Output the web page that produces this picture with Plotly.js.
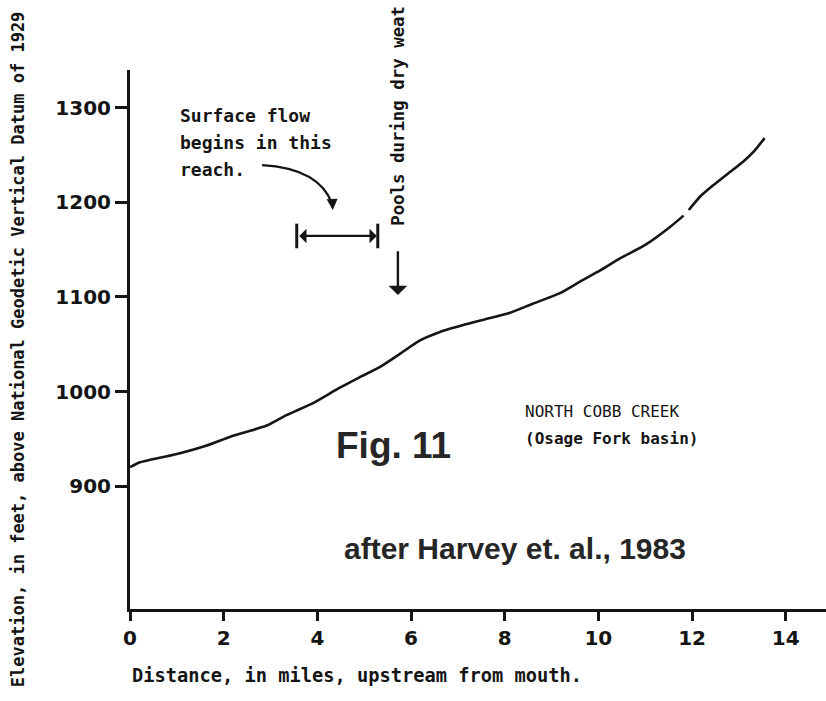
<!DOCTYPE html>
<html>
<head>
<meta charset="utf-8">
<script src="https://cdn.plot.ly/plotly-3.0.1.min.js"></script>
<style>
  html, body { margin: 0; padding: 0; background: #ffffff; }
  #chart { width: 826px; height: 701px; }
</style>
</head>
<body>
<div id="chart"></div>
<script>
// Distance upstream from mouth (miles) and streambed elevation (feet, NGVD 1929)
const distanceMiles = [0, 0.2, 0.45, 1.0, 1.64, 2.13, 2.5, 2.92, 3.34, 3.92, 4.48, 4.9, 5.34, 5.77, 6.19, 6.62, 7.17, 7.55, 8.1, 8.61, 9.18, 9.6, 10.04, 10.47, 11.0, 11.53, 11.82, null, 11.93, 12.17, 12.45, 12.78, 13.09, 13.34, 13.55];
const elevationFeet = [920, 925, 928, 934, 943, 952, 957.5, 964, 975, 988, 1004, 1015, 1026, 1040, 1054, 1063, 1071, 1076, 1083, 1093, 1104, 1116, 1128, 1141, 1155, 1174, 1186, null, 1192, 1206, 1218, 1231, 1243, 1255, 1268];

const xTickVals = [0, 2, 4, 6, 8, 10, 12, 14];
const xTickText = ['0', '2', '4', '6', '8', '10', '12', '14'];
const yTickVals = [900, 1000, 1100, 1200, 1300];
const yTickText = ['900', '1000', '1100', '1200', '1300'];

// Annotated features
const reachStartMile = 3.56;      // surface-flow reach, lower end
const reachEndMile = 5.29;        // surface-flow reach, upper end
const reachLabelElev = 1164.5;    // level of the bracket
const poolsMile = 5.72;           // "Pools during dry weather" marker
const poolsArrowTop = 1150;
const poolsArrowTip = 1102;

const lettering = "DejaVu Sans Mono";
const ink = "#151515";

const trace = {
  x: distanceMiles,
  y: elevationFeet,
  type: 'scatter',
  mode: 'lines',
  connectgaps: false,
  line: { color: ink, width: 2.6, shape: 'spline', smoothing: 0.6 },
  hoverinfo: 'x+y',
  showlegend: false
};

const tickFont = { family: 'DejaVu Sans', size: 20, color: ink, weight: 'bold' };

const layout = {
  width: 826,
  height: 701,
  paper_bgcolor: '#ffffff',
  plot_bgcolor: '#ffffff',
  margin: { l: 130, r: 0, t: 70, b: 92 },
  showlegend: false,
  xaxis: {
    range: [0, 14.86],
    tickvals: xTickVals,
    ticktext: xTickText,
    ticks: 'outside',
    ticklen: 9,
    tickwidth: 2.5,
    tickcolor: ink,
    showline: true,
    linecolor: ink,
    linewidth: 3,
    showgrid: false,
    zeroline: false,
    tickfont: tickFont,
    fixedrange: true
  },
  yaxis: {
    range: [770, 1340],
    tickvals: yTickVals,
    ticktext: yTickText,
    ticks: 'outside',
    ticklen: 12,
    tickwidth: 2.5,
    tickcolor: ink,
    showline: true,
    linecolor: ink,
    linewidth: 3,
    showgrid: false,
    zeroline: false,
    tickfont: tickFont,
    fixedrange: true
  },
  shapes: [
    // curved leader from the "Surface flow" note toward the reach
    {
      type: 'path',
      xref: 'x', yref: 'y',
      path: 'M 2.82 1239.5 Q 4.05 1236 4.32 1198',
      line: { color: ink, width: 2.2 }
    },
    // end bars of the reach bracket
    {
      type: 'line', xref: 'x', yref: 'y',
      x0: reachStartMile, x1: reachStartMile, y0: reachLabelElev - 13, y1: reachLabelElev + 13,
      line: { color: ink, width: 3 }
    },
    {
      type: 'line', xref: 'x', yref: 'y',
      x0: reachEndMile, x1: reachEndMile, y0: reachLabelElev - 13, y1: reachLabelElev + 13,
      line: { color: ink, width: 3 }
    }
  ],
  annotations: [
    // y axis title (rotated)
    {
      xref: 'paper', yref: 'paper', x: -0.161, y: 0.482,
      xanchor: 'center', yanchor: 'middle', textangle: -90, showarrow: false,
      text: 'Elevation, in feet, above National Geodetic Vertical Datum of 1929',
      font: { family: lettering, size: 17, color: ink, weight: 'bold' }
    },
    // x axis title, left aligned under the axis
    {
      xref: 'paper', yref: 'paper', x: 0, y: -0.1225,
      xanchor: 'left', yanchor: 'middle', showarrow: false,
      text: 'Distance, in miles, upstream from mouth.',
      font: { family: lettering, size: 18.7, color: ink, weight: 'bold' }
    },
    // Surface flow note
    {
      xref: 'x', yref: 'y', x: 1.02, y: 1292, xanchor: 'left', yanchor: 'middle', showarrow: false,
      text: 'Surface flow', font: { family: lettering, size: 18, color: ink, weight: 'bold' }
    },
    {
      xref: 'x', yref: 'y', x: 1.02, y: 1263.5, xanchor: 'left', yanchor: 'middle', showarrow: false,
      text: 'begins in this', font: { family: lettering, size: 18, color: ink, weight: 'bold' }
    },
    {
      xref: 'x', yref: 'y', x: 1.02, y: 1235, xanchor: 'left', yanchor: 'middle', showarrow: false,
      text: 'reach.', font: { family: lettering, size: 18, color: ink, weight: 'bold' }
    },
    // arrow head on the curved leader
    {
      xref: 'x', yref: 'y', axref: 'x', ayref: 'y',
      x: 4.33, y: 1192, ax: 4.32, ay: 1200, text: '',
      showarrow: true, arrowhead: 2, arrowsize: 1, arrowwidth: 2.2, arrowcolor: ink, standoff: 0, startstandoff: 0
    },
    // reach bracket (double arrow)
    {
      xref: 'x', yref: 'y', axref: 'x', ayref: 'y',
      x: reachEndMile, y: reachLabelElev, ax: reachStartMile, ay: reachLabelElev, text: '',
      showarrow: true, arrowside: 'end+start', arrowhead: 1, arrowsize: 1.1, arrowwidth: 2.2,
      arrowcolor: ink, standoff: 1, startstandoff: 1
    },
    // pools arrow
    {
      xref: 'x', yref: 'y', axref: 'x', ayref: 'y',
      x: poolsMile, y: poolsArrowTip, ax: poolsMile, ay: poolsArrowTop, text: '',
      showarrow: true, arrowhead: 1, arrowsize: 1.3, arrowwidth: 2.4, arrowcolor: ink, standoff: 0, startstandoff: 0
    },
    // pools text (rotated; the reference shows it running off the top edge)
    {
      xref: 'x', yref: 'y', x: poolsMile, y: 1173, xanchor: 'center', yanchor: 'bottom',
      textangle: -90, showarrow: false,
      text: 'Pools during dry weat',
      font: { family: lettering, size: 17.4, color: ink, weight: 'bold' }
    },
    // creek label
    {
      xref: 'x', yref: 'y', x: 8.39, y: 979.3, xanchor: 'left', yanchor: 'middle', showarrow: false,
      text: 'NORTH COBB CREEK', font: { family: lettering, size: 16, color: ink }
    },
    {
      xref: 'x', yref: 'y', x: 8.39, y: 950.8, xanchor: 'left', yanchor: 'middle', showarrow: false,
      text: '(Osage Fork basin)', font: { family: lettering, size: 16, color: ink, weight: 'bold' }
    },
    // figure number
    {
      xref: 'x', yref: 'y', x: 5.63, y: 943, xanchor: 'center', yanchor: 'middle', showarrow: false,
      text: 'Fig. 11', font: { family: 'Liberation Sans', size: 37, color: '#262626', weight: 'bold' }
    },
    // source
    {
      xref: 'x', yref: 'y', x: 8.22, y: 834.4, xanchor: 'center', yanchor: 'middle', showarrow: false,
      text: 'after Harvey et. al., 1983', font: { family: 'Liberation Sans', size: 30, color: '#262626', weight: 'bold' }
    }
  ]
};

Plotly.newPlot('chart', [trace], layout, { displayModeBar: false, staticPlot: false, responsive: false });
</script>
</body>
</html>
